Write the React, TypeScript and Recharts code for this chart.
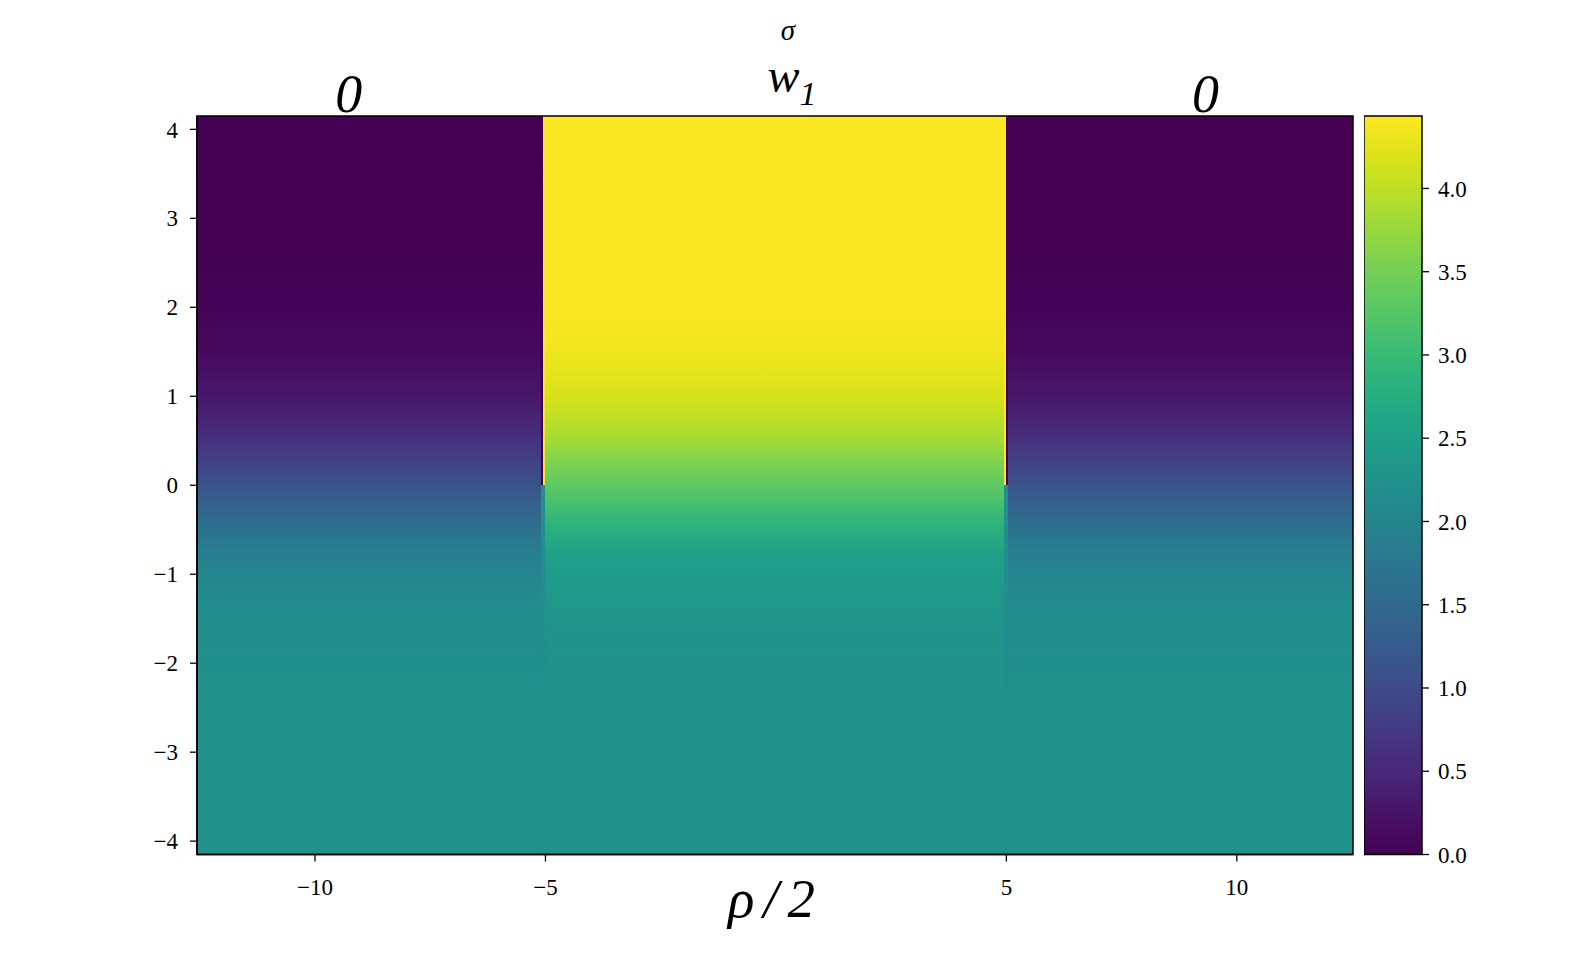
import { ComposedChart, XAxis, YAxis, ReferenceArea } from 'recharts';

// Lignes de sigma (bord bas -> bord haut) et valeurs
const sigmaRows = [-4.15, -2.5, -2.25, -2.0, -1.75, -1.5, -1.25, -1.0, -0.75, -0.5, -0.25, 0, 0.25, 0.5, 0.75, 1.0, 1.25, 1.5, 1.75, 2.0, 2.5, 4.15];
const outerValues = [2.21, 2.21, 2.21, 2.2, 2.18, 2.16, 2.12, 2.02, 1.88, 1.67, 1.42, 1.11, 0.86, 0.64, 0.43, 0.3, 0.21, 0.13, 0.08, 0.04, 0.01, 0.0];
const innerValues = [2.21, 2.22, 2.23, 2.25, 2.27, 2.3, 2.35, 2.42, 2.55, 2.79, 3.07, 3.32, 3.57, 3.82, 4.0, 4.16, 4.26, 4.34, 4.38, 4.41, 4.43, 4.43];

// colonnes en rho/2 ; les colonnes "step" sautent en sigma = 0
const columnX0 = [-12.56, -5.09, -5.045, -5.0, 4.955, 5.0, 5.045];
const columnX1 = [-5.09, -5.045, -5.0, 4.955, 5.0, 5.045, 12.52];
const columnKind = ['outer', 'stepLow', 'stepHigh', 'inner', 'stepHigh', 'stepLow', 'outer'];
const stepLowValues = [0.0, 2.16]; // au-dessus, en dessous de sigma = 0
const stepHighValues = [4.43, 2.16];

const xTicks = [-10, -5, 5, 10];
const yTicks = [-4, -3, -2, -1, 0, 1, 2, 3, 4];
const topTicks = [-9.27, 0.35, 9.32];
const topLabelMain = ['0', 'w', '0'];
const topLabelSub = ['', '1', ''];
const cbarTicks = [0, 0.5, 1.0, 1.5, 2.0, 2.5, 3.0, 3.5, 4.0];
const cbarMax = 4.435;

const xMin = columnX0[0];
const xMax = columnX1[columnX1.length - 1];
const yMin = sigmaRows[0];
const yMax = sigmaRows[sigmaRows.length - 1];

// viridis (pas de 0.05)
const VIRIDIS = [
  '#440154', '#471164', '#482475', '#46337f', '#414487', '#3b528b', '#355f8d',
  '#2f6c8e', '#2a788e', '#25848e', '#21918c', '#1e9c89', '#22a884', '#2fb47c',
  '#44bf70', '#5ec962', '#7ad151', '#9bd93c', '#bddf26', '#dfe318', '#fde725',
];

function hex(c: string) {
  return [1, 3, 5].map((i) => parseInt(c.slice(i, i + 2), 16));
}

function viridis(v: number) {
  const t = Math.max(0, Math.min(1, v / cbarMax)) * (VIRIDIS.length - 1);
  const i = Math.min(Math.floor(t), VIRIDIS.length - 2);
  const f = t - i;
  const a = hex(VIRIDIS[i]);
  const b = hex(VIRIDIS[i + 1]);
  const m = a.map((ai, k) => Math.round(ai + (b[k] - ai) * f));
  return `rgb(${m[0]},${m[1]},${m[2]})`;
}

const W = 1580;
const H = 960;
const PLOT = { left: 197, right: 1353, top: 116, bottom: 854.5 };
const Y_AXIS_W = 80;
const X_AXIS_H = 60;
const TOP_AXIS_H = 40;
const FONT = "'Liberation Serif', 'DejaVu Serif', serif";

const fmtMinus = (v: number) => (v < 0 ? `\u2212${Math.abs(v)}` : `${v}`);

function profileStops(values: number[]) {
  // offsets du haut (sigma max) vers le bas
  return sigmaRows
    .map((s, i) => ({ off: (yMax - s) / (yMax - yMin), color: viridis(values[i]) }))
    .reverse();
}

function renderTopTick(props: any) {
  const { x, payload } = props;
  let i = 0;
  topTicks.forEach((t, k) => {
    if (Math.abs(t - payload.value) < Math.abs(topTicks[i] - payload.value)) i = k;
  });
  const sub = topLabelSub[i];
  return (
    <text
      key={`top-${i}`}
      x={x}
      y={sub ? PLOT.top - 24 : PLOT.top - 4}
      textAnchor="middle"
      fontFamily={FONT}
      fontStyle="italic"
      fontSize={sub ? 48 : 54}
      fill="#000"
    >
      {topLabelMain[i]}
      {sub ? (
        <tspan fontSize={34} dy={13}>
          {sub}
        </tspan>
      ) : null}
    </text>
  );
}

const tickStyle = { fill: '#000', fontSize: 23, fontFamily: FONT };

export default function App() {
  const outerStops = profileStops(outerValues);
  const innerStops = profileStops(innerValues);
  const cbarStops = VIRIDIS.map((c, i) => ({ off: 1 - i / (VIRIDIS.length - 1), color: c })).reverse();

  return (
    <div style={{ position: 'absolute', left: 0, top: 0, width: W, height: H, background: '#fff' }}>
      <div style={{ position: 'absolute', left: 0, top: 0 }}>
        <ComposedChart
          width={W}
          height={H}
          data={[]}
          margin={{
            top: PLOT.top - TOP_AXIS_H,
            left: PLOT.left - Y_AXIS_W,
            right: W - PLOT.right,
            bottom: H - PLOT.bottom - X_AXIS_H,
          }}
        >
          <defs>
            <linearGradient id="gOuter" x1="0" y1="0" x2="0" y2="1">
              {outerStops.map((s, i) => (
                <stop key={i} offset={s.off} stopColor={s.color} />
              ))}
            </linearGradient>
            <linearGradient id="gInner" x1="0" y1="0" x2="0" y2="1">
              {innerStops.map((s, i) => (
                <stop key={i} offset={s.off} stopColor={s.color} />
              ))}
            </linearGradient>
          </defs>
          <XAxis
            type="number"
            dataKey="x"
            domain={[xMin, xMax]}
            allowDataOverflow
            ticks={xTicks}
            interval={0}
            height={X_AXIS_H}
            tickSize={7}
            tickMargin={17}
            tick={tickStyle}
            tickFormatter={fmtMinus}
            axisLine={{ stroke: '#000', strokeWidth: 1.5 }}
            tickLine={{ stroke: '#000', strokeWidth: 1.3 }}
          />
          <XAxis
            xAxisId="top"
            orientation="top"
            type="number"
            dataKey="x"
            domain={[xMin, xMax]}
            allowDataOverflow
            ticks={topTicks}
            interval={0}
            height={TOP_AXIS_H}
            tickSize={0}
            tickMargin={0}
            axisLine={false}
            tickLine={false}
            tick={renderTopTick}
          />
          <YAxis
            type="number"
            domain={[yMin, yMax]}
            allowDataOverflow
            ticks={yTicks}
            interval={0}
            width={Y_AXIS_W}
            tickSize={7}
            tickMargin={12}
            tick={tickStyle}
            tickFormatter={fmtMinus}
            axisLine={{ stroke: '#000', strokeWidth: 1.5 }}
            tickLine={{ stroke: '#000', strokeWidth: 1.3 }}
          />
          {columnKind.map((kind, i) =>
            kind === 'outer' || kind === 'inner' ? (
              <ReferenceArea
                key={i}
                x1={columnX0[i]}
                x2={columnX1[i]}
                y1={yMin}
                y2={yMax}
                fill={kind === 'outer' ? 'url(#gOuter)' : 'url(#gInner)'}
                fillOpacity={1}
                stroke="none"
                shapeRendering="crispEdges"
                ifOverflow="visible"
              />
            ) : (
              [0, 1].map((half) => {
                const vals = kind === 'stepLow' ? stepLowValues : stepHighValues;
                return (
                  <ReferenceArea
                    key={`${i}-${half}`}
                    x1={columnX0[i]}
                    x2={columnX1[i]}
                    y1={half === 0 ? 0 : yMin}
                    y2={half === 0 ? yMax : 0}
                    fill={viridis(vals[half])}
                    fillOpacity={1}
                    stroke="none"
                    shapeRendering="crispEdges"
                    ifOverflow="visible"
                  />
                );
              })
            )
          )}
          <ReferenceArea
            xAxisId="top"
            x1={xMin}
            x2={xMax}
            y1={yMin}
            y2={yMax}
            fill="none"
            stroke="#000"
            strokeWidth={1.5}
            ifOverflow="visible"
          />
          <text x={788} y={40} textAnchor="middle" fontFamily={FONT} fontStyle="italic" fontSize={29} fill="#000">
            σ
          </text>
          <text
            x={776}
            y={917}
            textAnchor="middle"
            fontFamily={FONT}
            fontStyle="italic"
            fontSize={55}
            letterSpacing={9}
            fill="#000"
          >
            ρ/2
          </text>
        </ComposedChart>
      </div>

      {/* barre de couleur */}
      <div style={{ position: 'absolute', left: 1364, top: 0 }}>
        <ComposedChart
          width={150}
          height={H}
          data={[]}
          margin={{ top: PLOT.top, bottom: H - PLOT.bottom, left: 0, right: 0 }}
        >
          <defs>
            <linearGradient id="gCbar" x1="0" y1="0" x2="0" y2="1">
              {cbarStops.map((s, i) => (
                <stop key={i} offset={s.off} stopColor={s.color} />
              ))}
            </linearGradient>
          </defs>
          <XAxis
            type="number"
            dataKey="x"
            domain={[0, 1]}
            allowDataOverflow
            height={0}
            tick={false}
            axisLine={false}
            tickLine={false}
          />
          <YAxis
            orientation="right"
            type="number"
            domain={[0, cbarMax]}
            allowDataOverflow
            ticks={cbarTicks}
            interval={0}
            width={92}
            tickSize={7}
            tickMargin={9}
            tick={tickStyle}
            tickFormatter={(v: number) => v.toFixed(1)}
            axisLine={false}
            tickLine={{ stroke: '#000', strokeWidth: 1.3 }}
          />
          <ReferenceArea
            x1={0}
            x2={1}
            y1={0}
            y2={cbarMax}
            fill="url(#gCbar)"
            fillOpacity={1}
            stroke="#000"
            strokeWidth={1.5}
            ifOverflow="visible"
          />
        </ComposedChart>
      </div>
    </div>
  );
}
